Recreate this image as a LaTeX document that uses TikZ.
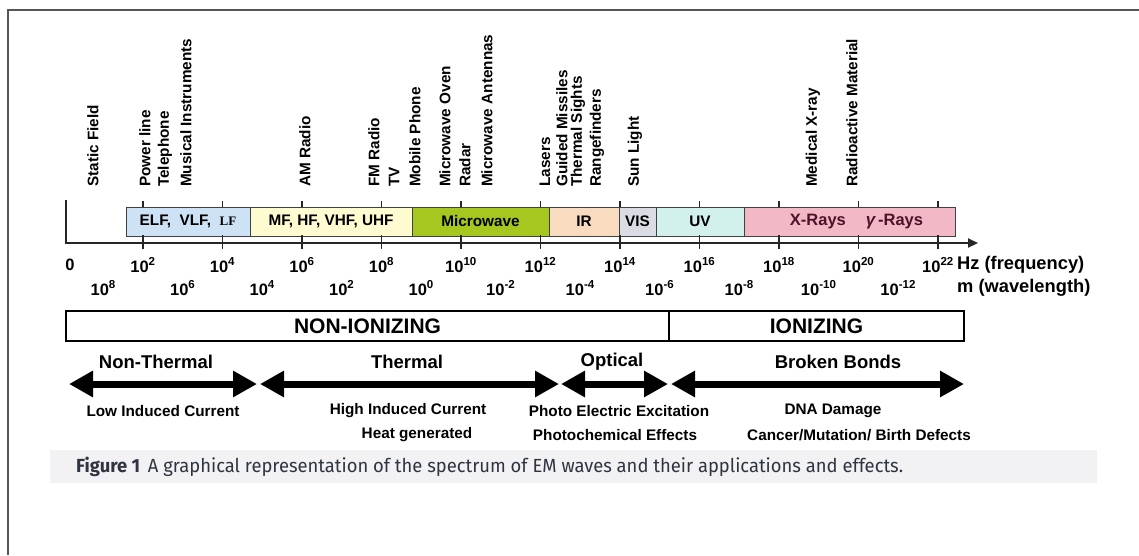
\documentclass[tikz,border=0pt]{standalone}
\usepackage{fontspec}
\setmainfont{Liberation Sans}
\newfontfamily\lffont{Liberation Serif}
\newfontfamily\capfont{Fira Sans}
\usetikzlibrary{arrows.meta}
\definecolor{framec}{HTML}{555555}
\definecolor{elfc}{HTML}{CDE3F5}
\definecolor{mfc}{HTML}{FEFBD0}
\definecolor{mwc}{HTML}{A6C620}
\definecolor{irc}{HTML}{F9DCC0}
\definecolor{visc}{HTML}{D9DDE3}
\definecolor{uvc}{HTML}{D3F1EC}
\definecolor{xrc}{HTML}{F3B8C6}
\definecolor{xrtext}{HTML}{4A1428}
\definecolor{capbg}{HTML}{F2F2F4}
\definecolor{captext}{HTML}{2F3440}
\tikzset{
  app/.style={rotate=90, anchor=west, inner sep=0pt, font=\fontsize{15.3}{18}\selectfont\bfseries},
  band/.style={draw=black!75, line width=1pt, minimum height=29pt, inner sep=0pt, outer sep=0pt, anchor=north west, font=\fontsize{15.3}{16}\selectfont\bfseries},
  axisline/.style={line width=2pt, black!85},
  tickline/.style={line width=1.8pt, black!85},
  freq/.style={inner sep=0pt, font=\fontsize{16.5}{18}\selectfont\bfseries},
  unitlab/.style={inner sep=0pt, anchor=west, font=\fontsize{18.3}{20}\selectfont\bfseries},
  ionbox/.style={draw=black, line width=2pt, minimum height=30pt, inner sep=0pt, outer sep=0pt, anchor=north west, font=\fontsize{21}{22}\selectfont\bfseries},
  bigarrow/.style={line width=7pt, arrows={Triangle[length=24pt,width=25pt]-Triangle[length=24pt,width=25pt]}},
  efftitle/.style={inner sep=0pt, font=\fontsize{18.5}{20}\selectfont\bfseries},
  effsub/.style={inner sep=0pt, font=\fontsize{15.3}{18}\selectfont\bfseries},
}
\begin{document}
\begin{tikzpicture}[x=1pt,y=-1pt]
\useasboundingbox (0,0) rectangle (1139,555);
\fill[white] (0,0) rectangle (1139,555);
% frame
\draw[framec, line width=1.6pt] (8,555) -- (8,10) -- (1139,10);

% application labels
\node[app] (static) at (93,187) {Static Field};
\node[app] (power) at (145,187) {Power line};
\node[app] (tele) at (165,187) {Telephone};
\node[app] (music) at (186,187) {Musical Instruments};
\node[app] (am) at (305,187) {AM Radio};
\node[app] (fm) at (374,187) {FM Radio};
\node[app] (tv) at (394,187) {TV};
\node[app] (mobile) at (415,187) {Mobile Phone};
\node[app] (oven) at (445,187) {Microwave Oven};
\node[app] (radar) at (465,187) {Radar};
\node[app] (anten) at (487,187) {Microwave Antennas};
\node[app] (laser) at (545,187) {Lasers};
\node[app] (guided) at (562,187) {Guided Missiles};
\node[app] (sights) at (578,187) {Thermal Sights};
\node[app] (range) at (597,187) {Rangefinders};
\node[app] (sun) at (635,187) {Sun Light};
\node[app] (medx) at (813,187) {Medical X-ray};
\node[app] (radio) at (852,187) {Radioactive Material};

% bands
\node[band, fill=elfc, minimum width=124pt] (elf) at (126,207) {ELF,\ \ VLF,\ \ {\lffont\fontsize{13}{14}\selectfont LF}};
\node[band, fill=mfc, minimum width=162pt] (mf) at (250,207) {MF, HF, VHF, UHF};
\node[band, fill=mwc, minimum width=137pt] (mw) at (412,207) {Microwave};
\node[band, fill=irc, minimum width=70pt] (ir) at (549,207) {IR};
\node[band, fill=visc, minimum width=37pt] (vis) at (619,207) {VIS};
\node[band, fill=uvc, minimum width=88pt] (uv) at (656,207) {UV};
\node[band, fill=xrc, minimum width=211pt, text=xrtext, font=\fontsize{16.5}{16}\selectfont\bfseries] (xr) at (744,207) {\hspace{14pt}X-Rays\hspace{20pt}{\fontsize{17}{16}\selectfont\itshape γ}\,-Rays};

% axis
\coordinate (axtop) at (66,200);
\coordinate (axorig) at (66,243);
\coordinate (axend) at (978,243);
\draw[axisline, -{Triangle[length=10pt,width=9pt]}] (axtop) -- (axorig) -- (axend);
\foreach \k in {0,...,10}{
  \pgfmathsetmacro\xx{143+79.5*\k}
  \pgfmathtruncatemacro\ef{2*\k+2}
  \pgfmathtruncatemacro\ew{8-2*\k}
  \draw[tickline] (\xx,201) -- (\xx,207);
  \draw[tickline] (\xx,235) -- (\xx,249);
  \node[freq] (f\k) at (\xx,265) {10\textsuperscript{\ef}};
  \node[freq] (w\k) at (\xx-39.75,288) {10\textsuperscript{\ew}};
}
\node[freq] (fzero) at (70,265) {0};
\node[unitlab] (hz) at (957,265) {Hz (frequency)};
\node[unitlab] (wl) at (957,288) {m (wavelength)};

% ionizing boxes
\node[ionbox, minimum width=603pt] (nonion) at (66,311) {NON-IONIZING};
\node[ionbox, minimum width=295pt] (ion) at (669,311) {IONIZING};

% effect arrows
\coordinate (a0) at (69,384);
\coordinate (a1) at (257,384);
\coordinate (b0) at (260,384);
\coordinate (b1) at (559,384);
\coordinate (c0) at (561,384);
\coordinate (c1) at (668,384);
\coordinate (d0) at (671,384);
\coordinate (d1) at (964,384);
\draw[bigarrow] (a0) -- (a1);
\draw[bigarrow] (b0) -- (b1);
\draw[bigarrow] (c0) -- (c1);
\draw[bigarrow] (d0) -- (d1);

\node[efftitle] (tnon) at (156,362) {Non-Thermal};
\node[efftitle] (tth) at (407,362) {Thermal};
\node[efftitle] (topt) at (612,362) {Optical};
\node[efftitle] (tbb) at (838,362) {Broken Bonds};

\node[effsub] (s1) at (163,411) {Low Induced Current};
\node[effsub] (s2) at (408,411) {High Induced Current};
\node[effsub] (s3) at (417,435) {Heat generated};
\node[effsub] (s4) at (619,411) {Photo Electric Excitation};
\node[effsub] (s5) at (615,435) {Photochemical Effects};
\node[effsub] (s6) at (833,411) {DNA Damage};
\node[effsub] (s7) at (859,435) {Cancer/Mutation/ Birth Defects};

% caption
\fill[capbg] (50,450) rectangle (1097,483);
\node[anchor=west, inner sep=0pt, text=captext] (cap) at (76,466.5) {\resizebox{827pt}{\height}{\capfont\fontsize{19}{20}\selectfont\textbf{Figure 1}\hspace{8pt}A graphical representation of the spectrum of EM waves and their applications and effects.}};
\end{tikzpicture}
\end{document}
